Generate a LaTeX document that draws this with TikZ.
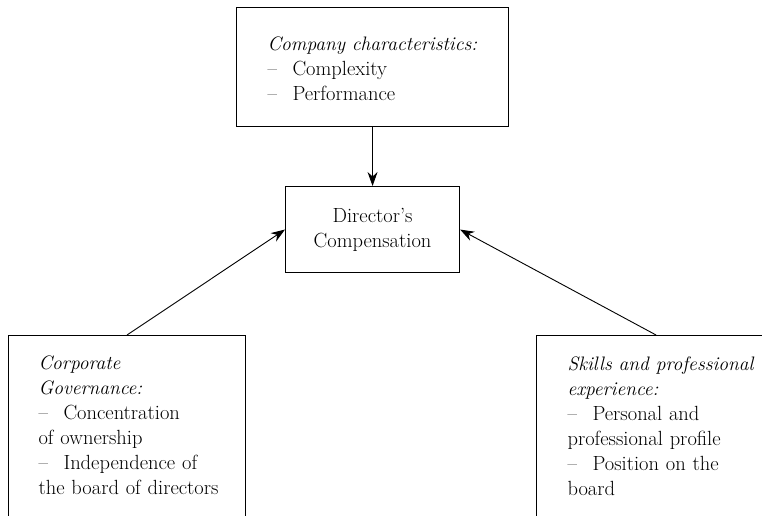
\documentclass[tikz,border=0pt]{standalone}
\usepackage{fontspec}
\usetikzlibrary{arrows.meta}
\newcommand{\dashitem}{\makebox[25pt][l]{–}}
\newcommand{\oneline}[1]{\mbox{#1}}
\newcommand{\itl}[1]{\mbox{\fontsize{19.5}{25}\selectfont\itshape #1}}
\begin{document}
\begin{tikzpicture}[x=1pt,y=1pt,
  box/.style={draw, line width=1.1pt, inner ysep=0pt, align=left,
    font=\fontsize{20.5}{25}\selectfont},
  arr/.style={line width=0.9pt, -{Stealth[length=14pt,width=10pt]}}]
\clip (0,0) rectangle (762,-516);
\fill[white] (0,0) rectangle (762,-516);
\node[box, anchor=north west, inner xsep=31pt, text width=210pt,
  text height=43pt, text depth=76pt] (top) at (236,-7)
  {\itl{Company characteristics:}\\ \oneline{\dashitem Complexity}\\ \oneline{\dashitem Performance}};
\node[box, anchor=north west, inner xsep=0pt, text width=174pt, align=center,
  text height=36pt, text depth=50pt] (dc) at (285,-186)
  {Director’s\\ Compensation};
\node[box, anchor=north west, inner xsep=30pt, text width=177pt,
  text height=34pt, text depth=200pt] (cg) at (8,-335)
  {\itl{Corporate}\\ \itl{Governance:}\\ \oneline{\dashitem Concentration}\\ \oneline{of ownership}\\ \oneline{\dashitem Independence of}\\ \oneline{the board of directors}};
\node[box, anchor=north west, inner xsep=31pt, text width=177pt,
  text height=35pt, text depth=200pt] (sk) at (536,-335)
  {\itl{Skills and professional}\\ \itl{experience:}\\ \oneline{\dashitem Personal and}\\ \oneline{professional profile}\\ \oneline{\dashitem Position on the}\\ \oneline{board}};
\draw[arr] (top.south) -- (dc.north);
\draw[arr] (cg.north) -- (dc.west);
\draw[arr] (sk.north) -- (dc.east);
\end{tikzpicture}
\end{document}
